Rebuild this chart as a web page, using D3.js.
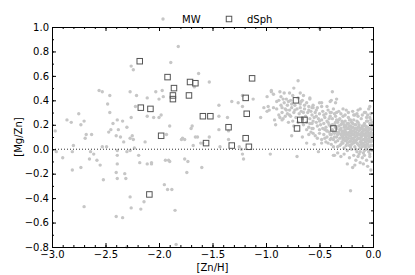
<!DOCTYPE html>
<html lang="en">
    <head>
        <meta charset="utf-8">
        <title>Mg/Zn vs Zn/H</title>
        <script type="text/javascript" src="https://d3js.org/d3.v7.min.js"></script>
    </head>
    <body style="margin:0">
        <style>
          svg text { font-family: "DejaVu Sans", sans-serif; font-size: 10px; fill: black; }
        </style>
        <script type="text/javascript">
            // [Zn/H], [Mg/Zn] pairs
            const mw_points = [
              [-1.82,0.84],[-2.26,0.68],[-2.24,0.65],[-1.89,0.71],[-2.56,0.48],[-2.53,0.47],[-2.46,0.44],[-2.27,0.47],[-2.21,0.44],[-2.48,0.37],
              [-2.11,0.42],[-2.03,0.47],[-1.97,0.48],[-2.00,0.41],[-1.96,0.43],[-2.46,0.30],[-2.22,0.35],[-2.26,0.26],[-2.75,0.29],[-2.86,0.24],
              [-2.82,0.22],[-2.70,0.23],[-2.73,0.20],[-2.97,0.15],[-2.43,0.21],[-2.39,0.24],[-2.34,0.23],[-2.30,0.18],[-2.11,0.27],[-2.05,0.26],
              [-2.00,0.26],[-1.98,0.28],[-1.90,0.19],[-1.93,0.12],[-2.68,0.12],[-2.69,0.09],[-2.63,0.12],[-2.47,0.14],[-2.45,0.16],[-2.38,0.16],
              [-2.40,0.11],[-2.36,0.10],[-2.33,0.06],[-2.27,0.09],[-2.25,0.11],[-2.24,0.08],[-2.13,0.06],[-2.80,0.03],[-2.53,0.02],[-2.49,0.02],
              [-2.23,0.01],[-2.96,-0.02],[-2.90,-0.07],[-2.81,-0.02],[-2.81,-0.17],[-2.73,-0.15],[-2.64,-0.02],[-2.61,-0.04],[-2.65,-0.08],[-2.58,-0.09],
              [-2.55,-0.13],[-2.52,-0.25],[-2.39,-0.01],[-2.39,-0.05],[-2.39,-0.12],[-2.40,-0.19],[-2.39,-0.24],[-2.30,-0.02],[-2.27,-0.01],[-2.32,-0.20],
              [-2.31,-0.24],[-2.19,-0.05],[-2.18,-0.11],[-2.11,-0.12],[-2.07,-0.11],[-1.94,-0.09],[-1.91,-0.09],[-2.70,-0.47],[-2.40,-0.55],[-2.34,-0.56],
              [-2.27,-0.39],[-2.26,-0.48],[-2.14,-0.43],[-2.17,-0.49],[-1.95,-0.29],[-1.92,-0.33],[-1.88,-0.33],[-1.85,-0.50],[-1.84,-0.78],[-2.30,-0.80],
              [-1.63,0.62],[-1.53,0.55],[-1.67,0.51],[-1.44,0.36],[-1.32,0.39],[-1.26,0.38],[-1.22,0.35],[-1.22,0.44],[-1.12,0.41],[-1.44,0.27],
              [-1.36,0.26],[-1.44,0.16],[-1.69,0.19],[-1.70,0.17],[-1.78,0.09],[-1.76,0.08],[-1.66,0.10],[-1.64,0.10],[-1.53,0.10],[-1.61,0.05],
              [-1.68,0.03],[-1.43,0.02],[-1.35,0.08],[-1.25,0.02],[-1.05,0.26],[-1.02,0.34],[-0.99,0.31],[-0.98,0.35],[-0.95,0.47],[-0.93,0.45],
              [-0.87,0.47],[-0.83,0.46],[-0.93,0.34],[-0.90,0.39],[-0.92,0.24],[-0.87,0.26],[-0.91,0.20],[-0.96,-0.04],[-1.22,-0.04],[-1.21,-0.08],
              [-2.07,-0.12],[-1.90,-0.10],[-1.76,-0.08],[-1.73,-0.10],[-1.74,-0.19],[-1.60,-0.15],[-1.79,0.08],[-1.59,0.05],[-1.35,0.15],[-1.23,0.00],
              [-0.99,0.43],[-0.95,0.48],[-0.97,0.32],[-0.50,0.99],
              [-0.70,0.56],[-0.74,0.50],[-0.38,0.47],[-0.48,0.38],[-0.59,0.41],[-0.57,0.34],[-0.39,0.40],[-0.34,0.41],[-0.03,0.26],[-0.17,0.28],
              [-0.78,0.46],[-0.68,0.46],[-0.65,0.44],[-0.59,0.42],[-0.84,0.41],[-0.79,0.39],[-0.76,0.37],[-0.67,0.39],[-0.64,0.36],[-0.50,0.38],
              [-0.48,0.35],[-0.40,0.39],[-0.35,0.38],[-0.85,0.34],[-0.81,0.32],[-0.73,0.32],[-0.68,0.34],[-0.60,0.32],[-0.56,0.34],[-0.53,0.32],
              [-0.43,0.35],[-0.82,0.27],[-0.78,0.28],[-0.65,0.30],[-0.57,0.28],[-0.53,0.27],[-0.46,0.28],[-0.40,0.30],[-0.34,0.30],[-0.25,0.32],
              [-0.14,0.32],[-0.03,0.35],[-0.07,0.30],[-0.85,0.24],[-0.75,0.23],[-0.59,0.21],[-0.56,0.23],[-0.50,0.23],[-0.43,0.23],[-0.29,0.23],
              [-0.21,0.24],[-0.15,0.23],[-0.06,0.23],[-0.76,0.11],[-0.62,0.16],[-0.60,0.12],[-0.57,0.17],[-0.56,0.13],[-0.52,0.09],[-0.50,0.16],
              [-0.48,0.05],[-0.43,0.15],[-0.45,0.09],[-0.40,0.08],[-0.39,0.04],[-0.37,-0.05],[-0.32,0.13],
              [-0.90,0.33],[-0.88,0.40],[-0.88,0.28],[-0.86,0.36],[-0.86,0.43],[-0.85,0.30],[-0.84,0.25],[-0.83,0.38],[-0.82,0.33],[-0.81,0.41],
              [-0.80,0.29],[-0.80,0.36],[-0.79,0.22],[-0.78,0.32],[-0.77,0.40],[-0.77,0.27],[-0.76,0.34],[-0.75,0.44],[-0.74,0.30],[-0.74,0.19],
              [-0.73,0.36],[-0.72,0.26],[-0.71,0.33],[-0.70,0.42],[-0.70,0.22],[-0.69,0.29],[-0.68,0.37],[-0.67,0.31],[-0.66,0.25],[-0.66,0.40],
              [-0.65,0.20],[-0.64,0.33],[-0.63,0.27],[-0.62,0.38],[-0.62,0.22],[-0.61,0.30],[-0.60,0.18],[-0.60,0.35],[-0.59,0.25],[-0.58,0.14],
              [-0.58,0.31],[-0.57,0.21],[-0.56,0.36],[-0.56,0.17],[-0.55,0.26],[-0.54,0.30],[-0.54,0.11],[-0.53,0.22],[-0.52,0.19],[-0.52,0.34],
              [-0.51,0.25],[-0.50,0.13],[-0.50,0.29],[-0.49,0.20],[-0.48,0.24],[-0.48,0.08],[-0.47,0.17],[-0.47,0.31],[-0.46,0.21],[-0.46,0.12],
              [-0.45,0.26],[-0.45,0.16],[-0.44,0.29],[-0.44,0.06],[-0.42,0.32],[-0.40,0.27],[-0.39,0.30],[-0.37,0.33],[-0.36,0.29],[-0.32,0.31],
              [-0.28,0.33],[-0.23,0.30],[-0.19,0.31],[-0.15,0.29],[-0.12,0.33],[-0.08,0.30],[-0.05,0.28],[-0.02,0.29],[-0.04,0.33],
              [-0.44,0.18],[-0.43,0.10],[-0.42,0.22],[-0.41,0.14],[-0.40,0.19],[-0.39,0.12],[-0.38,0.25],[-0.38,0.16],[-0.37,0.08],[-0.36,0.20],
              [-0.36,0.13],[-0.35,0.27],[-0.35,0.06],[-0.34,0.17],[-0.34,0.10],[-0.33,0.22],[-0.33,0.02],[-0.32,0.14],[-0.32,0.19],[-0.31,0.09],
              [-0.31,0.25],[-0.30,0.12],[-0.30,0.17],[-0.30,0.04],[-0.29,0.21],[-0.29,0.15],[-0.28,0.08],[-0.28,0.11],[-0.28,0.27],[-0.27,0.18],
              [-0.27,0.13],[-0.27,0.01],[-0.26,0.23],[-0.26,0.07],[-0.26,0.16],[-0.25,0.10],[-0.25,0.19],[-0.25,0.14],[-0.24,0.05],[-0.24,0.21],
              [-0.24,0.12],[-0.23,0.17],[-0.23,0.09],[-0.23,0.26],[-0.22,0.14],[-0.22,0.03],[-0.22,0.19],[-0.21,0.11],[-0.21,0.07],[-0.21,0.16],
              [-0.20,0.22],[-0.20,0.13],[-0.20,0.00],[-0.19,0.09],[-0.19,0.18],[-0.19,0.15],[-0.18,0.05],[-0.18,0.12],[-0.18,0.24],[-0.17,0.10],
              [-0.17,0.17],[-0.17,0.02],[-0.16,0.14],[-0.16,0.20],[-0.16,0.07],[-0.15,0.11],[-0.15,0.16],[-0.15,-0.02],[-0.14,0.13],[-0.14,0.04],
              [-0.14,0.22],[-0.13,0.09],[-0.13,0.18],[-0.13,0.15],[-0.12,0.06],[-0.12,0.12],[-0.12,0.01],[-0.11,0.17],[-0.11,0.10],[-0.11,0.25],
              [-0.10,0.14],[-0.10,0.05],[-0.10,0.19],[-0.09,0.08],[-0.09,0.12],[-0.09,-0.03],[-0.08,0.16],[-0.08,0.03],[-0.08,0.21],[-0.07,0.10],
              [-0.07,0.13],[-0.07,0.06],[-0.06,0.18],[-0.06,0.00],[-0.06,0.11],[-0.05,0.15],[-0.05,0.07],[-0.05,0.23],[-0.04,0.09],[-0.04,0.13],
              [-0.04,0.02],[-0.03,0.17],[-0.03,0.11],[-0.03,-0.04],[-0.02,0.06],[-0.02,0.14],[-0.02,0.20],[-0.01,0.10],[-0.01,0.03],[-0.01,0.16],
              [-0.005,0.12],[-0.005,0.07],
              [-0.43,0.15],[-0.41,0.20],[-0.39,0.09],[-0.37,0.14],[-0.35,0.18],[-0.33,0.12],[-0.31,0.16],[-0.29,0.10],[-0.27,0.20],[-0.25,0.07],
              [-0.23,0.13],[-0.21,0.19],[-0.19,0.06],[-0.17,0.14],[-0.15,0.08],[-0.13,0.20],[-0.11,0.07],[-0.09,0.15],[-0.07,0.19],[-0.05,0.11],
              [-0.03,0.08],[-0.01,0.19],[-0.02,0.24],[-0.06,0.26],[-0.10,0.28],[-0.14,0.27],[-0.18,0.28],[-0.22,0.24],[-0.26,0.28],[-0.30,0.29],
              [-0.34,0.24],[-0.28,0.05],[-0.24,-0.01],[-0.20,0.04],[-0.16,0.00],[-0.12,-0.02],[-0.08,-0.01],[-0.04,-0.02],[-0.01,-0.01],[-0.02,0.00],
              [-0.06,0.04],[-0.10,0.02],
              [-0.42,0.05],[-0.41,0.25],[-0.40,0.12],[-0.38,0.20],[-0.37,0.02],[-0.36,0.10],[-0.35,0.22],[-0.34,0.14],[-0.33,0.07],[-0.32,0.24],
              [-0.31,0.03],[-0.30,0.20],[-0.29,0.13],[-0.29,0.06],[-0.28,0.22],[-0.27,0.15],[-0.27,0.09],[-0.26,0.19],[-0.26,0.12],[-0.25,0.03],
              [-0.24,0.17],[-0.24,0.08],[-0.23,0.21],[-0.22,0.11],[-0.22,0.06],[-0.21,0.14],[-0.21,0.02],[-0.20,0.18],[-0.20,0.09],[-0.19,0.12],
              [-0.19,0.21],[-0.18,0.15],[-0.18,0.08],[-0.17,0.20],[-0.17,0.06],[-0.16,0.11],[-0.16,0.17],[-0.15,0.05],[-0.15,0.13],[-0.14,0.09],
              [-0.14,0.18],[-0.13,0.12],[-0.13,0.03],[-0.12,0.16],[-0.12,0.09],[-0.11,0.13],[-0.11,0.04],[-0.10,0.11],[-0.10,0.17],[-0.09,0.05],
              [-0.09,0.19],[-0.08,0.12],[-0.08,0.08],[-0.07,0.16],[-0.07,0.02],[-0.06,0.14],[-0.06,0.08],[-0.05,0.18],[-0.05,0.04],[-0.04,0.16],
              [-0.04,0.06],[-0.03,0.13],[-0.03,0.21],[-0.02,0.10],[-0.02,0.03],[-0.01,0.13],[-0.01,0.07],[-0.01,0.22],
              [-0.36,-0.05],[-0.33,-0.03],[-0.30,-0.06],[-0.27,-0.04],[-0.24,-0.12],[-0.22,-0.07],[-0.19,-0.15],[-0.18,-0.05],[-0.16,-0.09],[-0.14,-0.06],
              [-0.12,-0.11],[-0.10,-0.07],[-0.08,-0.05],[-0.06,-0.09],[-0.03,-0.06],[-0.01,-0.10],[-0.21,-0.34],[-0.71,-0.06],[-0.51,-0.02],[-0.62,0.05],
              [-0.66,0.10],[-0.55,0.04],[-0.13,-0.04],[-0.17,-0.13],[-0.09,-0.12],[-0.05,-0.14],[-0.02,-0.17]
            ]

            const dsph_points = [
              [-2.18,0.72],[-1.92,0.59],[-1.86,0.50],[-1.87,0.44],[-1.87,0.41],[-2.17,0.34],[-2.08,0.33],[-1.98,0.11],[-2.09,-0.37],
              [-1.71,0.55],[-1.66,0.54],[-1.72,0.44],[-1.13,0.58],[-1.19,0.42],[-1.59,0.27],[-1.52,0.27],[-1.18,0.29],[-1.35,0.18],
              [-1.56,0.05],[-1.19,0.09],[-1.32,0.03],[-1.16,0.02],[-0.72,0.40],[-0.68,0.24],[-0.64,0.24],[-0.71,0.17],[-0.37,0.17]
            ]

            const x_ticks = [-3.0, -2.5, -2.0, -1.5, -1.0, -0.5, 0.0]
            const y_ticks = [-0.8, -0.6, -0.4, -0.2, 0.0, 0.2, 0.4, 0.6, 0.8, 1.0]

            const w = 415
            const h = 275
            const pl = 52, pr = 373, pt = 27, pb = 247

            const svg = d3.select("body")
                          .append('svg')
                          .attr("height", h)
                          .attr("width", w)

            const x = d3.scaleLinear().domain([-3, 0]).range([pl, pr])
            const y = d3.scaleLinear().domain([-0.8, 1.0]).range([pb, pt])
            const fmt = d3.format(".1f")

            // MW dots
            svg.append("g")
               .selectAll("circle")
               .data(mw_points)
               .enter()
               .append("circle")
               .attr("cx", (d) => { return x(d[0]) })
               .attr("cy", (d) => { return y(d[1]) })
               .attr("r", 1.7)
               .attr("fill", "#c6c6c6")

            // zero line
            svg.append("line")
               .attr("x1", x(-3)).attr("x2", x(0))
               .attr("y1", y(0)).attr("y2", y(0))
               .attr("stroke", "#333")
               .attr("stroke-width", 1)
               .attr("stroke-dasharray", "1,2")

            // dSph squares
            const sq = 5.5
            svg.append("g")
               .selectAll("rect")
               .data(dsph_points)
               .enter()
               .append("rect")
               .attr("x", (d) => { return x(d[0]) - sq / 2 })
               .attr("y", (d) => { return y(d[1]) - sq / 2 })
               .attr("width", sq)
               .attr("height", sq)
               .attr("fill", "none")
               .attr("stroke", "#555")
               .attr("stroke-width", 1)

            // axes with inward ticks on all four sides
            const minor_x = x.ticks(30)
            const minor_y = y.ticks(18)

            const add_axis = (axis, tx, ty, vals, size, labels, pad) => {
                const g = svg.append("g")
                             .attr("transform", `translate(${tx},${ty})`)
                             .call(axis.tickValues(vals).tickSize(-size).tickSizeOuter(0)
                                       .tickPadding(pad).tickFormat(labels ? fmt : ""))
                g.select(".domain").remove()
                g.attr("font-family", null).attr("font-size", null)
                g.selectAll("line").attr("stroke", "black")
                return g
            }

            add_axis(d3.axisBottom(x), 0, pb, minor_x, 2, false, 4)
            add_axis(d3.axisTop(x), 0, pt, minor_x, 2, false, 4)
            add_axis(d3.axisLeft(y), pl, 0, minor_y, 2, false, 3)
            add_axis(d3.axisRight(y), pr, 0, minor_y, 2, false, 3)
            add_axis(d3.axisBottom(x), 0, pb, x_ticks, 4, true, 4)
            add_axis(d3.axisTop(x), 0, pt, x_ticks, 4, false, 4)
            add_axis(d3.axisLeft(y), pl, 0, y_ticks, 4, true, 3)
            add_axis(d3.axisRight(y), pr, 0, y_ticks, 4, false, 3)

            svg.append("rect")
               .attr("x", pl + 0.5).attr("y", pt + 0.5)
               .attr("width", pr - pl).attr("height", pb - pt)
               .attr("fill", "none")
               .attr("stroke", "black")
               .attr("stroke-width", 1)

            // axis labels
            svg.append("text")
               .attr("x", (pl + pr) / 2)
               .attr("y", 271)
               .attr("text-anchor", "middle")
               .text("[Zn/H]")

            svg.append("text")
               .attr("transform", `translate(22,${(pt + pb) / 2}) rotate(-90)`)
               .attr("text-anchor", "middle")
               .text("[Mg/Zn]")

            // legend
            svg.append("circle")
               .attr("cx", 163).attr("cy", 19)
               .attr("r", 1.7)
               .attr("fill", "#c6c6c6")
            svg.append("text")
               .attr("x", 182).attr("y", 22.5)
               .text("MW")
            svg.append("rect")
               .attr("x", 229 - sq / 2).attr("y", 19 - sq / 2)
               .attr("width", sq).attr("height", sq)
               .attr("fill", "none")
               .attr("stroke", "#555")
            svg.append("text")
               .attr("x", 247).attr("y", 22.5)
               .text("dSph")
        </script>
    </body>
</html>
